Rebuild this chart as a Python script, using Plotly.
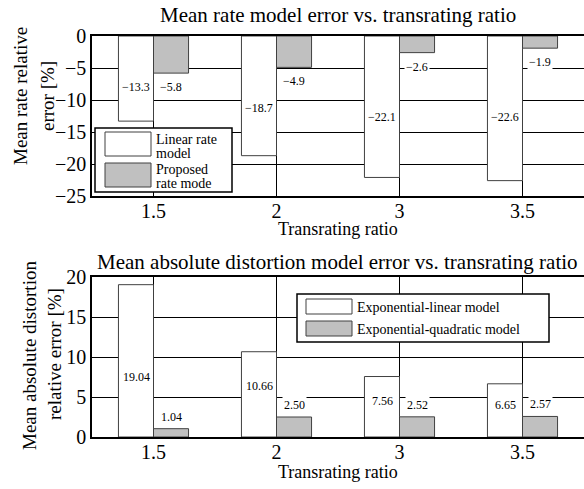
import plotly.graph_objects as go
from plotly.subplots import make_subplots

categories = ["1.5", "2", "3", "3.5"]
rate_linear = [-13.3, -18.7, -22.1, -22.6]
rate_proposed = [-5.8, -4.9, -2.6, -1.9]
dist_explin = [19.04, 10.66, 7.56, 6.65]
dist_expquad = [1.04, 2.50, 2.52, 2.57]

rate_labels_lin = ["−13.3", "−18.7", "−22.1", "−22.6"]
rate_labels_prop = ["−5.8", "−4.9", "−2.6", "−1.9"]
dist_labels_lin = ["19.04", "10.66", "7.56", "6.65"]
dist_labels_quad = ["1.04", "2.50", "2.52", "2.57"]

FONT = "Times New Roman, Liberation Serif, serif"
GRAY = "#c0c0c0"
EDGE = "#404040"

fig = make_subplots(rows=2, cols=1, vertical_spacing=0.2)

def add_bars(row, a, b, name_a, name_b):
    fig.add_trace(go.Bar(x=categories, y=a, name=name_a, marker=dict(color="white", line=dict(color=EDGE, width=1)),
                         showlegend=False), row=row, col=1)
    fig.add_trace(go.Bar(x=categories, y=b, name=name_b, marker=dict(color=GRAY, line=dict(color=EDGE, width=1)),
                         showlegend=False), row=row, col=1)

add_bars(1, rate_linear, rate_proposed, "Linear rate model", "Proposed rate mode")
add_bars(2, dist_explin, dist_expquad, "Exponential-linear model", "Exponential-quadratic model")

fig.update_layout(
    width=584, height=489,
    margin=dict(l=92, r=0, t=36, b=52),
    paper_bgcolor="white", plot_bgcolor="white",
    barmode="group", bargap=0.43, bargroupgap=0,
    font=dict(family=FONT, color="black"),
)

fig.update_yaxes(domain=[0.601, 1], row=1, col=1)
fig.update_yaxes(domain=[0, 0.399], row=2, col=1)

axis_common = dict(showgrid=True, gridcolor="black", gridwidth=1, showline=True, linecolor="black",
                   linewidth=1.5, ticks="", ticklen=0, tickfont=dict(family=FONT, size=20, color="black"),
                   zeroline=False)
fig.update_xaxes(**axis_common, mirror=True, range=[-0.5, 3.5], type="category", ticklabelstandoff=-4)
fig.update_yaxes(**axis_common, mirror=False, dtick=5)
fig.update_yaxes(range=[-25, 0], row=1, col=1)
fig.update_yaxes(range=[0, 20], row=2, col=1)

# custom legends / titles (paper coords, px converted)
W, H = 584, 489
L, T, B = 92, 36, 52
pw, ph = W - L, H - T - B
def px(x):
    return (x - L) / pw
def py(y):
    return (H - B - y) / ph

def txt(x, y, t, size, angle=0, xanchor="center"):
    fig.add_annotation(xref="paper", yref="paper", x=px(x), y=py(y), text=t, showarrow=False,
                       xanchor=xanchor, yanchor="middle", align="left", textangle=angle,
                       font=dict(family=FONT, size=size))

# titles
txt(338, 15, "Mean rate model error vs. transrating ratio", 21)
txt(337, 262, "Mean absolute distortion model error vs. transrating ratio", 21)
# axis titles
txt(338, 229, "Transrating ratio", 18)
txt(338, 472, "Transrating ratio", 18)
txt(20, 96, "Mean rate relative", 19, -90)
txt(47, 96, "error [%]", 19, -90)
txt(29, 356, "Mean absolute distortion", 19, -90)
txt(54, 354, "relative error [%]", 19, -90)

SH = 17.5
lab_font = dict(family=FONT, size=12, color="black")
# top labels
for i, (v, t) in enumerate(zip(rate_linear, rate_labels_lin)):
    fig.add_annotation(x=i, y=max(0.6 * v, -12.7), xref="x", yref="y", text=t, showarrow=False,
                       xshift=-SH, font=lab_font, bgcolor="white", borderpad=1)
for i, (v, t) in enumerate(zip(rate_proposed, rate_labels_prop)):
    fig.add_annotation(x=i, y=v, xref="x", yref="y", text=t, showarrow=False, yanchor="top", yshift=-5,
                       xshift=SH, font=lab_font, bgcolor="white", borderpad=1)
# bottom labels
for i, (v, t) in enumerate(zip(dist_explin, dist_labels_lin)):
    fig.add_annotation(x=i, y=min(0.6 * v, 7.5), xref="x2", yref="y2", text=t, showarrow=False,
                       xshift=-SH, font=lab_font, bgcolor="white", borderpad=1)
for i, (v, t) in enumerate(zip(dist_expquad, dist_labels_quad)):
    fig.add_annotation(x=i, y=v, xref="x2", yref="y2", text=t, showarrow=False, yanchor="bottom", yshift=3,
                       xshift=SH, font=lab_font, bgcolor="white", borderpad=1)

def rect(x0, y0, x1, y1, fill, lw=1, color=EDGE):
    fig.add_shape(type="rect", xref="paper", yref="paper", x0=px(x0), x1=px(x1), y0=py(y1), y1=py(y0),
                  fillcolor=fill, line=dict(color=color, width=lw), layer="above")

# top legend
rect(95, 128, 232, 192, "white", 1.5, "black")
rect(105, 132, 151, 156, "white")
rect(105, 163, 151, 187, GRAY)
txt(154, 139, "Linear rate", 14, xanchor="left")
txt(154, 153, "model", 14, xanchor="left")
txt(154, 169, "Proposed", 14, xanchor="left")
txt(154, 183, "rate mode", 14, xanchor="left")
# bottom legend
rect(297, 294, 549, 342, "white", 1.5, "black")
rect(306, 299, 352, 314, "white")
rect(306, 321, 352, 336, GRAY)
txt(355, 307, "Exponential-linear model", 14, xanchor="left")
txt(355, 329, "Exponential-quadratic model", 14, xanchor="left")

fig.write_html("out.html")
